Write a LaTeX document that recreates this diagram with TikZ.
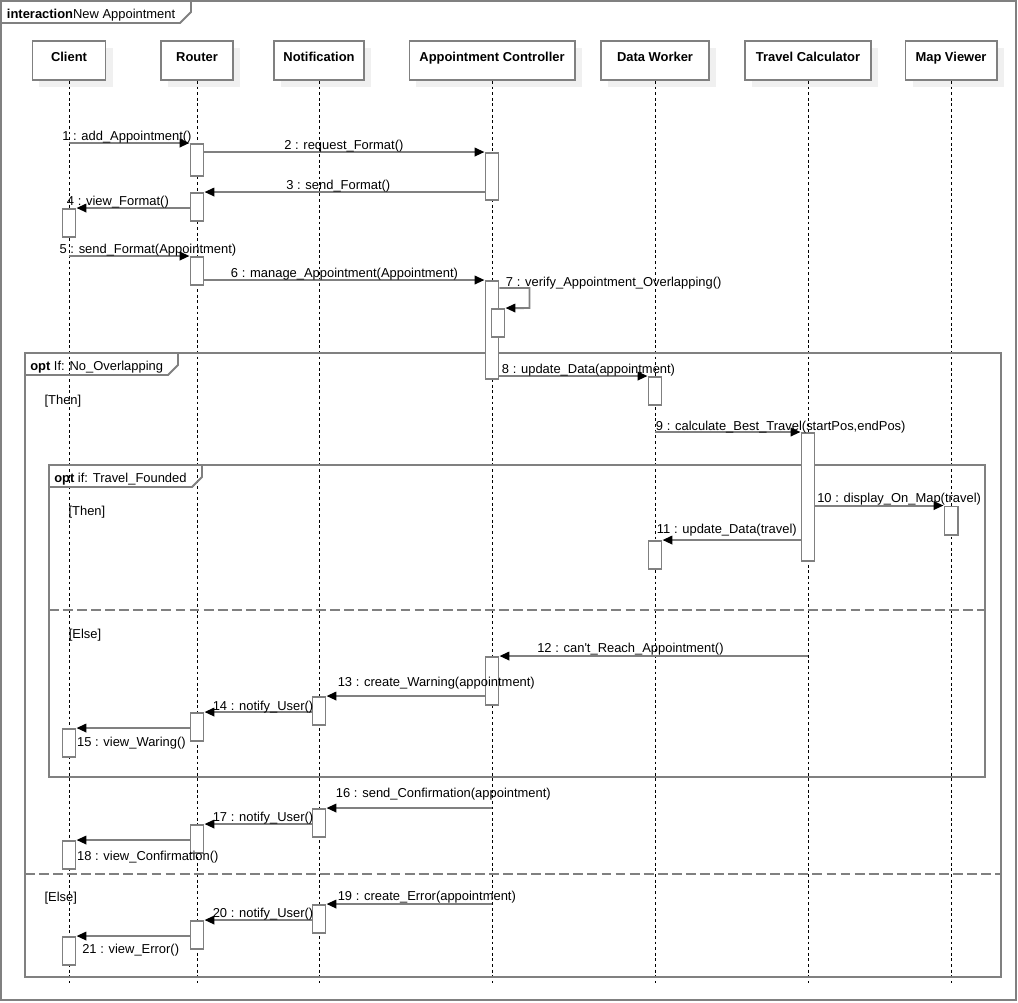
\documentclass[tikz,border=0pt]{standalone}
\usepackage{fontspec}
\setmainfont{Liberation Sans}
\usepackage{tikz}
\usetikzlibrary{arrows.meta, shadows}

\definecolor{linegray}{RGB}{128,128,128}
\definecolor{shadowgray}{RGB}{240,240,240}

\tikzset{
  head/.style={draw=linegray, line width=1.4pt, fill=white, font=\fontsize{9.2}{11}\selectfont\bfseries,
    text height=7pt, text depth=6pt, minimum height=0.975cm, inner sep=0pt,
    drop shadow={shadow xshift=0.175cm, shadow yshift=-0.175cm, fill=shadowgray, opacity=1}},
  act/.style={draw=linegray, line width=1.4pt, fill=white, minimum width=0.325cm,
    minimum height=#1, inner sep=0pt},
  act/.default=0.7cm,
  life/.style={dash pattern=on 2pt off 2pt, line width=0.7pt},
  msg/.style={draw=linegray, line width=1.4pt, -{Triangle[length=7pt, width=6pt, color=black]}},
  frame/.style={draw=linegray, line width=1.4pt},
  sep/.style={draw=linegray, line width=1.4pt, dash pattern=on 7pt off 3pt},
  lbl/.style={anchor=base west, inner sep=0pt}
}

\begin{document}
\begin{tikzpicture}[x=0.025cm, y=-0.025cm, font=\fontsize{9.2}{11}\selectfont]

\useasboundingbox ( 0, 0 ) rectangle ( 1018, 1002 );

% Outer frame
\draw [frame] ( 1, 1 ) rectangle ( 1016, 1000 );
\draw [frame] ( 1, 23 ) -- ( 180, 23 ) -- ( 191, 12 ) -- ( 191, 1 );
\node (title) at ( 6.7, 18.3 ) [lbl] {\textbf{interaction}New Appointment};

% Lifeline heads
\node (client) at ( 69, 60.5 ) [head, minimum width=1.825cm] {Client};
\node (router) at ( 197, 60.5 ) [head, minimum width=1.8cm] {Router};
\node (notif) at ( 319, 60.5 ) [head, minimum width=2.25cm] {Notification};
\node (ctrl) at ( 492, 60.5 ) [head, minimum width=4.125cm] {Appointment Controller};
\node (worker) at ( 655, 60.5 ) [head, minimum width=2.7cm] {Data Worker};
\node (calc) at ( 808, 60.5 ) [head, minimum width=3.15cm] {Travel Calculator};
\node (viewer) at ( 951, 60.5 ) [head, minimum width=2.275cm] {Map Viewer};

% Lifelines
\coordinate (bottom) at ( 0, 983 );
\foreach \who in {client, router, notif, ctrl, worker, calc, viewer}
  \draw [life] (\who.south) -- (\who.south |- bottom);

% opt frames
\draw [frame] ( 25, 353 ) rectangle ( 1001, 977 );
\draw [frame] ( 25, 375 ) -- ( 168, 375 ) -- ( 178, 365 ) -- ( 178, 353 );
\node (opt1) at ( 30, 370.7 ) [lbl] {\textbf{opt} If: No\_Overlapping};
\draw [sep] ( 25, 874 ) -- ( 1001, 874 );
\node (then1) at ( 44.3, 404 ) [lbl] {[Then]};
\node (else1) at ( 44.3, 901.7 ) [lbl] {[Else]};

\draw [frame] ( 49, 465 ) rectangle ( 985, 777 );
\draw [frame] ( 49, 487 ) -- ( 192, 487 ) -- ( 202, 477 ) -- ( 202, 465 );
\node (opt2) at ( 54, 482 ) [lbl] {\textbf{opt} if: Travel\_Founded};
\draw [sep] ( 49, 610 ) -- ( 985, 610 );
\node (then2) at ( 68.3, 515.7 ) [lbl] {[Then]};
\node (else2) at ( 68.6, 638 ) [lbl] {[Else]};

% Activations
\node (r1) at ( 197, 160 ) [act=0.8cm] {};
\node (ac1) at ( 492, 176.5 ) [act=1.175cm] {};
\node (r2) at ( 197, 207 ) [act] {};
\node (c1) at ( 69, 223 ) [act] {};
\node (r3) at ( 197, 271 ) [act] {};
\node (ac2) at ( 492, 330 ) [act=2.45cm] {};
\node (acn) at ( 498, 323 ) [act] {};
\node (dw1) at ( 655, 391 ) [act] {};
\node (tc1) at ( 808, 497 ) [act=3.2cm] {};
\node (mv1) at ( 951, 520.5 ) [act] {};
\node (dw2) at ( 655, 555 ) [act] {};
\node (ac3) at ( 492, 681 ) [act=1.2cm] {};
\node (n1) at ( 319, 711 ) [act] {};
\node (r4) at ( 197, 727 ) [act] {};
\node (c2) at ( 69, 743 ) [act] {};
\node (n2) at ( 319, 823 ) [act] {};
\node (r5) at ( 197, 839 ) [act] {};
\node (c3) at ( 69, 855 ) [act] {};
\node (n3) at ( 319, 919 ) [act] {};
\node (r6) at ( 197, 935 ) [act] {};
\node (c4) at ( 69, 951 ) [act] {};

% Messages
\draw [msg] (r1.north west -| client) -- (r1.north west);
\draw [msg] (ac1.north west -| r1.east) -- (ac1.north west);
\draw [msg] (r2.north east -| ac1.west) -- (r2.north east);
\draw [msg] (c1.north east -| r2.west) -- (c1.north east);
\draw [msg] (r3.north west -| client) -- (r3.north west);
\draw [msg] (ac2.north west -| r3.east) -- (ac2.north west);
\draw [msg] (ac2.north east) ++( 0, 8 ) -| ++( 30, 20 ) -- (acn.north east);
\draw [msg] (dw1.north west -| ac2.east) -- (dw1.north west);
\draw [msg] (tc1.north west -| worker) -- (tc1.north west);
\draw [msg] (mv1.north west -| tc1.east) -- (mv1.north west);
\draw [msg] (dw2.north east -| tc1.west) -- (dw2.north east);
\draw [msg] (ac3.north east -| calc) -- (ac3.north east);
\draw [msg] (n1.north east -| ac3.west) -- (n1.north east);
\draw [msg] (r4.north east -| n1.west) -- (r4.north east);
\draw [msg] (c2.north east -| r4.west) -- (c2.north east);
\draw [msg] (n2.north east -| ctrl) -- (n2.north east);
\draw [msg] (r5.north east -| n2.west) -- (r5.north east);
\draw [msg] (c3.north east -| r5.west) -- (c3.north east);
\draw [msg] (n3.north east -| ctrl) -- (n3.north east);
\draw [msg] (r6.north east -| n3.west) -- (r6.north east);
\draw [msg] (c4.north east -| r6.west) -- (c4.north east);

% Labels
\node (l1) at ( 62, 140.5 ) [lbl] {1 : add\_Appointment()};
\node (l2) at ( 284, 149 ) [lbl] {2 : request\_Format()};
\node (l3) at ( 286, 189 ) [lbl] {3 : send\_Format()};
\node (l4) at ( 66.7, 205 ) [lbl] {4 : view\_Format()};
\node (l5) at ( 59.3, 253 ) [lbl] {5 : send\_Format(Appointment)};
\node (l6) at ( 230.7, 277 ) [lbl] {6 : manage\_Appointment(Appointment)};
\node (l7) at ( 505.7, 286.5 ) [lbl] {7 : verify\_Appointment\_Overlapping()};
\node (l8) at ( 501.7, 373 ) [lbl] {8 : update\_Data(appointment)};
\node (l9) at ( 655.7, 430 ) [lbl] {9 : calculate\_Best\_Travel(startPos,endPos)};
\node (l10) at ( 817, 502 ) [lbl] {10 : display\_On\_Map(travel)};
\node (l11) at ( 656.7, 533 ) [lbl] {11 : update\_Data(travel)};
\node (l12) at ( 537, 652 ) [lbl] {12 : can\textquotesingle t\_Reach\_Appointment()};
\node (l13) at ( 337.5, 686 ) [lbl] {13 : create\_Warning(appointment)};
\node (l14) at ( 212.5, 710 ) [lbl] {14 : notify\_User()};
\node (l15) at ( 76.8, 746 ) [lbl] {15 : view\_Waring()};
\node (l16) at ( 335.7, 797.7 ) [lbl] {16 : send\_Confirmation(appointment)};
\node (l17) at ( 212.5, 821.7 ) [lbl] {17 : notify\_User()};
\node (l18) at ( 76.8, 860.7 ) [lbl] {18 : view\_Confirmation()};
\node (l19) at ( 337.5, 900.7 ) [lbl] {19 : create\_Error(appointment)};
\node (l20) at ( 212.5, 917.7 ) [lbl] {20 : notify\_User()};
\node (l21) at ( 82, 953.3 ) [lbl] {21 : view\_Error()};

\end{tikzpicture}
\end{document}
